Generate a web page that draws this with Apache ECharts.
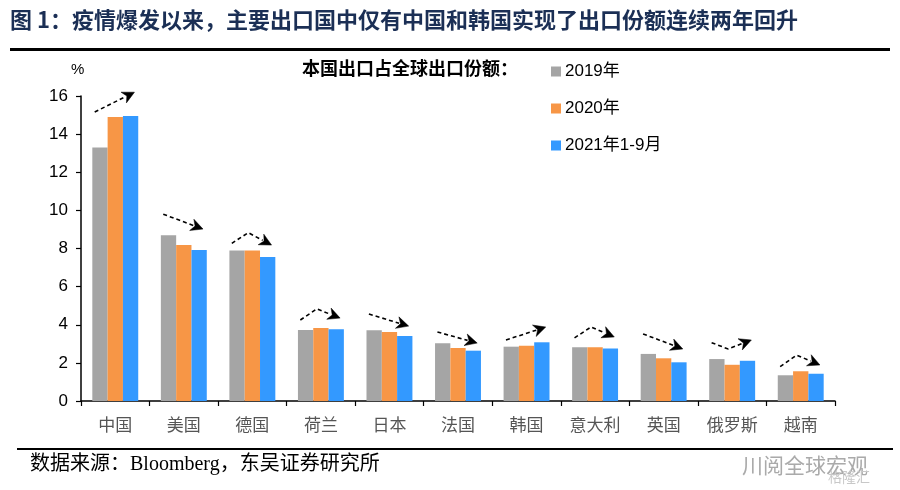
<!DOCTYPE html>
<html><head><meta charset="utf-8">
<script src="https://cdn.jsdelivr.net/npm/echarts@6/dist/echarts.min.js"></script>
<style>html,body{margin:0;padding:0;background:#fff}#c{width:900px;height:490px}</style>
</head><body><div id="c"></div>
<script>
const categories = ['中国','美国','德国','荷兰','日本','法国','韩国','意大利','英国','俄罗斯','越南'];
const s2019 = [13.3, 8.7, 7.9, 3.72, 3.71, 3.03, 2.85, 2.82, 2.47, 2.2, 1.35];
const s2020 = [14.9, 8.18, 7.9, 3.83, 3.62, 2.78, 2.9, 2.82, 2.24, 1.9, 1.56];
const s2021 = [14.95, 7.92, 7.55, 3.76, 3.41, 2.64, 3.08, 2.76, 2.03, 2.11, 1.43];
const seriesNames = ['2019年','2020年','2021年1-9月'];
const yTicks = [0, 2, 4, 6, 8, 10, 12, 14, 16];
// trend-arrow annotations (start / middle kink / end height, in axis units; null = straight)
const arrowStart = [15.16, 9.8, 8.27, 4.25, 4.56, 3.62, 3.2, 3.31, 3.52, 3.06, 1.8];
const arrowMid   = [null, null, 8.83, 4.83, null, null, null, 3.88, null, 2.73, 2.41];
const arrowEnd   = [16.2, 9.02, 8.18, 4.35, 3.93, 3.04, 3.88, 3.36, 2.73, 3.2, 1.89];

const xOff = [-0.3, -0.06, 0.28];
const arrowData = categories.map((c, i) => {
  let m = arrowMid[i];
  if (m === null) {
    const t = (xOff[1] - xOff[0]) / (xOff[2] - xOff[0]);
    m = arrowStart[i] + (arrowEnd[i] - arrowStart[i]) * t;
  }
  return [i, arrowStart[i], m, arrowEnd[i]];
});

const chart = echarts.init(document.getElementById('c'), null, {renderer: 'canvas'});
const colors = ['#a5a5a5', '#f79646', '#3399ff'];
const cjk = '"Noto Sans CJK SC", sans-serif';

function renderArrow(params, api) {
  const i = api.value(0);
  const band = api.size([1, 0])[0];
  const cx = api.coord([i, 0])[0];
  const pts = [1, 2, 3].map((k, j) => [cx + xOff[j] * band, api.coord([i, api.value(k)])[1]]);
  const p1 = pts[1], p2 = pts[2];
  const dx = p2[0] - p1[0], dy = p2[1] - p1[1];
  const len = Math.sqrt(dx * dx + dy * dy);
  const ux = dx / len, uy = dy / len;
  const hl = 12, hw = 6;
  const bx = p2[0] - ux * hl, by = p2[1] - uy * hl;
  const linePts = [pts[0], pts[1], [bx + ux * 2, by + uy * 2]];
  return {
    type: 'group',
    children: [
      {type: 'polyline', shape: {points: linePts},
       style: {stroke: '#000', lineWidth: 1.6, lineDash: [4, 3], fill: null}},
      {type: 'polygon', shape: {points: [p2, [bx - uy * hw, by + ux * hw], [bx + ux * 3.5, by + uy * 3.5], [bx + uy * hw, by - ux * hw]]},
       style: {fill: '#000', stroke: '#000', lineWidth: 0.5}}
    ]
  };
}

const option = {
  animation: false,
  backgroundColor: '#fff',
  grid: {left: 81, right: 65, top: 96, bottom: 89},
  legend: {
    data: seriesNames,
    orient: 'vertical',
    left: 546, top: 58,
    itemWidth: 10, itemHeight: 10, itemGap: 20,
    icon: 'rect',
    textStyle: {fontSize: 17, color: '#000', fontFamily: 'Arial, "Liberation Sans", ' + cjk, padding: [0, 0, 0, -1]}
  },
  xAxis: {
    type: 'category',
    data: categories,
    axisLine: {lineStyle: {color: '#000', width: 1.5}},
    axisTick: {show: true, length: 5, lineStyle: {color: '#000', width: 1.2}},
    axisLabel: {fontSize: 17, color: '#555', margin: 15, fontFamily: cjk}
  },
  yAxis: {
    type: 'value',
    min: yTicks[0], max: yTicks[yTicks.length - 1], interval: yTicks[1] - yTicks[0],
    axisLine: {show: true, lineStyle: {color: '#000', width: 1.5}},
    axisTick: {show: true, length: 5, lineStyle: {color: '#000', width: 1.2}},
    splitLine: {show: false},
    axisLabel: {fontSize: 17, color: '#000', margin: 13, fontFamily: 'Arial, "Liberation Sans", sans-serif'}
  },
  series: [
    {name: seriesNames[0], type: 'bar', data: s2019, barGap: '0%', barCategoryGap: '33%', itemStyle: {color: colors[0]}},
    {name: seriesNames[1], type: 'bar', data: s2020, barGap: '0%', barCategoryGap: '33%', itemStyle: {color: colors[1]}},
    {name: seriesNames[2], type: 'bar', data: s2021, barGap: '0%', barCategoryGap: '33%', itemStyle: {color: colors[2]}},
    {name: 'arrows', type: 'custom', renderItem: renderArrow, data: arrowData, z: 10, clip: false, silent: true,
     encode: {x: 0, y: [1, 2, 3]}}
  ],
  graphic: [
    {type: 'text', left: 10, top: 9, style: {text: '图 1：疫情爆发以来，主要出口国中仅有中国和韩国实现了出口份额连续两年回升', fontSize: 22, fontWeight: 'bold', fill: '#1b2f55', fontFamily: cjk}},
    {type: 'rect', shape: {x: 10, y: 48, width: 880, height: 3}, style: {fill: '#000'}},
    {type: 'text', left: 71, top: 62, style: {text: '%', fontSize: 15, fill: '#000', fontFamily: 'Arial, sans-serif'}},
    {type: 'text', left: 302, top: 59, style: {text: '本国出口占全球出口份额：', fontSize: 18, fontWeight: 'bold', fill: '#000', fontFamily: cjk}},
    {type: 'rect', shape: {x: 17, y: 448, width: 876, height: 2}, style: {fill: '#000'}},
    {type: 'text', left: 30, top: 455, style: {text: '数据来源：Bloomberg，东吴证券研究所', fontSize: 20, fill: '#000', fontFamily: '"Liberation Serif", "Noto Sans CJK SC", serif'}},
    {type: 'text', left: 742, top: 455, style: {text: '川阅全球宏观', fontSize: 21, fill: '#aaa', fontFamily: cjk}},
    {type: 'text', left: 828, top: 470, style: {text: '格隆汇', fontSize: 14, fill: '#c8c8c8', fontFamily: cjk}}
  ]
};
chart.setOption(option);
</script>
</body></html>
